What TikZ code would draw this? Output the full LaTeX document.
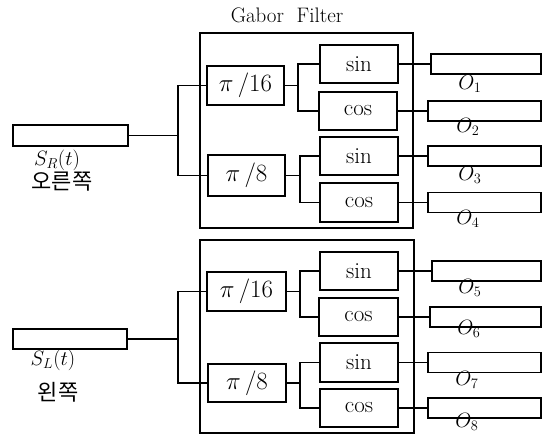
\documentclass[tikz,border=0pt]{standalone}
\usepackage{fontspec}
\newfontfamily\krfont{Noto Sans CJK KR}
\begin{document}
\begin{tikzpicture}[x=1pt,y=-1pt,
  every node/.style={inner sep=0pt, outer sep=0pt},
  bigbox/.style={draw, line width=2.8pt, rectangle},
  blk/.style={draw, line width=1.1pt, rectangle, font=\fontsize{23}{26}\selectfont},
  outbox/.style={draw, line width=1.1pt, rectangle, minimum height=20pt},
  lbl/.style={font=\fontsize{20}{24}\selectfont},
  wire/.style={line width=1.1pt}]
\useasboundingbox (0,0) rectangle (543,436);

\node[font=\fontsize{21}{24}\selectfont] (title) at (287,15) {Gabor\ \ Filter};

% ---------- top group ----------
\node[bigbox, minimum width=213pt, minimum height=195pt] (gf1) at (306.5,130.5) {};
\node[outbox, minimum width=115pt, minimum height=21pt] (inR) at (70.5,135.5) {};
\node[lbl] (sR) at (57,160) {$S_R(t)$};
\node[font=\krfont\fontsize{22}{26}\selectfont] (kR) at (62,182) {오른쪽};

\node[blk, minimum width=77pt, minimum height=39pt] (p16a) at (245.5,85.5) {$\pi\,/16$};
\node[blk, minimum width=77pt, minimum height=41pt] (p8a) at (246.5,175.5) {$\pi\,/8$};

\node[blk, minimum width=78pt, minimum height=38pt] (sin1) at (359,64) {sin};
\node[blk, minimum width=78pt, minimum height=38pt] (cos1) at (358,111) {cos};
\node[blk, minimum width=78pt, minimum height=38pt] (sin2) at (359,156) {sin};
\node[blk, minimum width=78pt, minimum height=39pt] (cos2) at (359,202.5) {cos};

\node[outbox, minimum width=110pt] (o1) at (486,64) {};
\node[outbox, minimum width=113pt] (o2) at (484.5,111) {};
\node[outbox, minimum width=113pt] (o3) at (484.5,156) {};
\node[outbox, minimum width=113pt] (o4) at (484.5,202.5) {};
\node[lbl] (l1) at (470,84) {$O_1$};
\node[lbl] (l2) at (468,127) {$O_2$};
\node[lbl] (l3) at (470,175) {$O_3$};
\node[lbl] (l4) at (468,219) {$O_4$};

\coordinate (jR) at (178,135.5);
\coordinate (ja) at (298,85.5);
\coordinate (jb) at (300,175.5);
\draw[wire] (inR.east) -- (jR);
\draw[wire] (p16a.west) -| (jR) |- (p8a.west);
\draw[wire] (p16a.east) -- (ja);
\draw[wire] (sin1.west) -| (ja) |- (cos1.west);
\draw[wire] (p8a.east) -- (jb);
\draw[wire] (sin2.west) -| (jb) |- (cos2.west);
\draw[wire] (sin1.east) -- (o1.west);
\draw[wire] (cos1.east) -- (o2.west);
\draw[wire] (sin2.east) -- (o3.west);
\draw[wire] (cos2.east) -- (o4.west);

% ---------- bottom group ----------
\node[bigbox, minimum width=214pt, minimum height=193pt] (gf2) at (307,336.5) {};
\node[outbox, minimum width=114pt, minimum height=20pt] (inL) at (70,339) {};
\node[lbl] (sL) at (53,360) {$S_L(t)$};
\node[font=\krfont\fontsize{22}{26}\selectfont] (kL) at (58,392) {왼쪽};

\node[blk, minimum width=79pt, minimum height=39pt] (p16b) at (246.5,291.5) {$\pi\,/16$};
\node[blk, minimum width=78pt, minimum height=38pt] (p8b) at (247,383) {$\pi\,/8$};

\node[blk, minimum width=78pt, minimum height=38pt] (sin3) at (359,271) {sin};
\node[blk, minimum width=79pt, minimum height=38pt] (cos3) at (358.5,317) {cos};
\node[blk, minimum width=78pt, minimum height=39pt] (sin4) at (359,362.5) {sin};
\node[blk, minimum width=78pt, minimum height=38pt] (cos4) at (359,408) {cos};

\node[outbox, minimum width=109pt] (o5) at (486.5,271) {};
\node[outbox, minimum width=111pt] (o6) at (485.5,317) {};
\node[outbox, minimum width=113pt] (o7) at (484.5,362.5) {};
\node[outbox, minimum width=113pt] (o8) at (484.5,408) {};
\node[lbl] (l5) at (470,288) {$O_5$};
\node[lbl] (l6) at (469,329) {$O_6$};
\node[lbl] (l7) at (467,380) {$O_7$};
\node[lbl] (l8) at (467,422) {$O_8$};

\coordinate (jL) at (178,339);
\coordinate (jc) at (300,291.5);
\coordinate (jd) at (300,383);
\draw[wire] (inL.east) -- (jL);
\draw[wire] (p16b.west) -| (jL) |- (p8b.west);
\draw[wire] (p16b.east) -- (jc);
\draw[wire] (sin3.west) -| (jc) |- (cos3.west);
\draw[wire] (p8b.east) -- (jd);
\draw[wire] (sin4.west) -| (jd) |- (cos4.west);
\draw[wire] (sin3.east) -- (o5.west);
\draw[wire] (cos3.east) -- (o6.west);
\draw[wire] (sin4.east) -- (o7.west);
\draw[wire] (cos4.east) -- (o8.west);
\end{tikzpicture}
\end{document}
